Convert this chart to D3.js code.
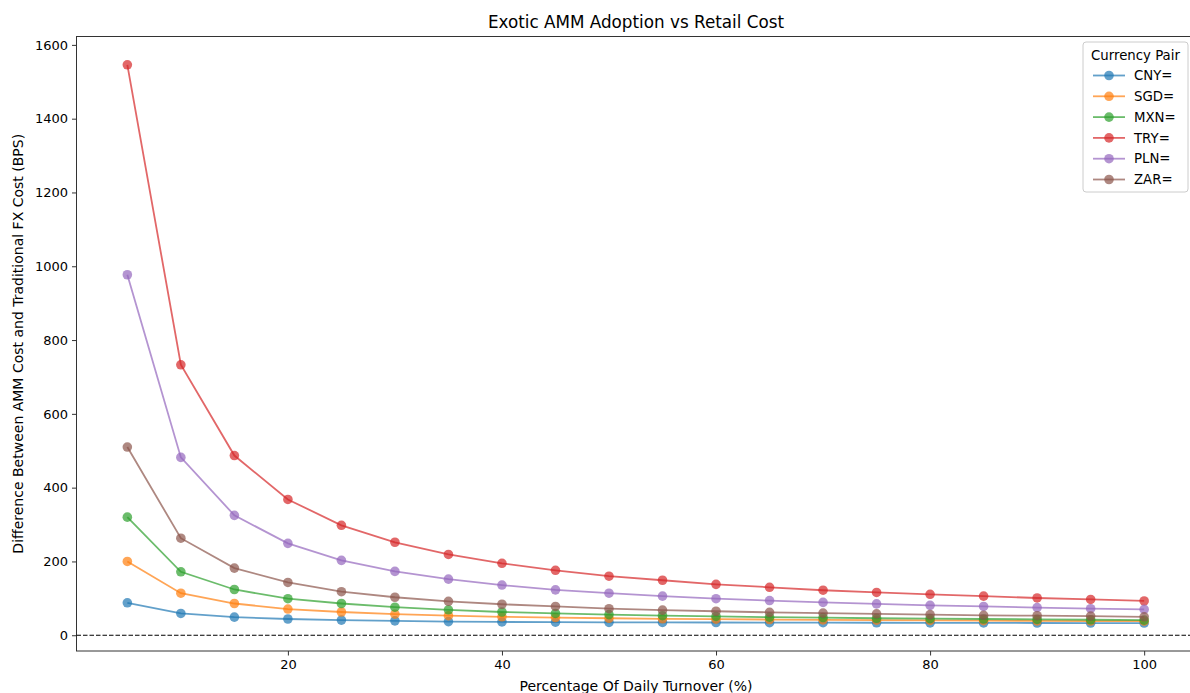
<!DOCTYPE html>
<html>
<head>
<meta charset="utf-8">
<script src="https://cdn.jsdelivr.net/npm/d3@7"></script>
<style>
  body { margin: 0; background: #fff; }
  svg { font-family: "DejaVu Sans", sans-serif; display: block; }
</style>
</head>
<body>
<svg id="chart" width="1190" height="693"></svg>
<script>
// turnover percentages on the x axis
var turnover = [5, 10, 15, 20, 25, 30, 35, 40, 45, 50, 55, 60, 65, 70, 75, 80, 85, 90, 95, 100];

// values (bps)
var cny = [88, 59, 49, 44, 41, 39, 37, 36, 35.5, 35, 34.8, 34.5, 34.2, 34, 33.8, 33.6, 33.4, 33.2, 33.1, 33];
var sgd = [200, 114, 86, 71, 63, 57, 53, 50, 48, 46, 44.5, 43.5, 42.5, 41.5, 40.8, 40.2, 39.6, 39, 38.5, 38];
var mxn = [320, 172, 124, 99, 86, 76, 69, 63, 59, 56, 53, 51, 49, 48, 46, 45, 44, 43, 42, 41];
var tryv = [1546, 733, 487, 368, 298, 252, 219, 195, 176, 160, 149, 138, 130, 122, 116, 111, 106, 101, 97, 93];
var pln = [977, 482, 325, 249, 203, 173, 152, 136, 123, 114, 106, 99, 94, 89, 85, 81, 78, 75, 72, 70];
var zar = [510, 263, 182, 143, 118, 103, 92, 84, 78, 72, 68, 65, 62, 60, 58, 56, 54, 53, 52, 50];

var pairs = ["CNY=", "SGD=", "MXN=", "TRY=", "PLN=", "ZAR="];
var seriesValues = [cny, sgd, mxn, tryv, pln, zar];
var colors = ["#1f77b4", "#ff7f0e", "#2ca02c", "#d62728", "#9467bd", "#8c564b"];

var xTicks = [20, 40, 60, 80, 100];
var yTicks = [0, 200, 400, 600, 800, 1000, 1200, 1400, 1600];

var svg = d3.select("#chart");

// plot area (right edge runs past the picture, as in the original)
var pLeft = 76.5, pRight = 1195, pTop = 36.5, pBottom = 651;

var x = d3.scaleLinear().domain([0.25, 104.75]).range([pLeft, pRight]);
var y = d3.scaleLinear().domain([-42.7, 1622.7]).range([pBottom, pTop]);

// axes
var xAxis = svg.append("g")
  .attr("transform", "translate(0," + pBottom + ")")
  .call(d3.axisBottom(x).tickValues(xTicks).tickFormat(d3.format("d"))
    .tickSize(4.5).tickPadding(4).tickSizeOuter(0));
var yAxis = svg.append("g")
  .attr("transform", "translate(" + pLeft + ",0)")
  .call(d3.axisLeft(y).tickValues(yTicks).tickFormat(d3.format("d"))
    .tickSize(4.5).tickPadding(4).tickSizeOuter(0));

[xAxis, yAxis].forEach(function(a) {
  a.select(".domain").remove();
  a.selectAll(".tick line").attr("stroke", "#333").attr("stroke-width", 1);
  a.selectAll(".tick text").attr("font-size", 13).attr("fill", "#000")
    .attr("font-family", "DejaVu Sans, sans-serif");
});

// frame
svg.append("rect")
  .attr("x", pLeft).attr("y", pTop)
  .attr("width", pRight - pLeft).attr("height", pBottom - pTop)
  .attr("fill", "none").attr("stroke", "#333").attr("stroke-width", 1);

// zero line
svg.append("line")
  .attr("x1", pLeft).attr("x2", pRight)
  .attr("y1", y(0)).attr("y2", y(0))
  .attr("stroke", "#000").attr("stroke-width", 1.2)
  .attr("stroke-dasharray", "4.5,2");

var line = d3.line()
  .x(function(d, i) { return x(turnover[i]); })
  .y(function(d) { return y(d); });

seriesValues.forEach(function(vals, k) {
  var g = svg.append("g");
  g.append("path")
    .datum(vals)
    .attr("d", line)
    .attr("fill", "none")
    .attr("stroke", colors[k])
    .attr("stroke-width", 1.8)
    .attr("stroke-opacity", 0.7);
  g.selectAll("circle")
    .data(vals)
    .enter()
    .append("circle")
    .attr("cx", function(d, i) { return x(turnover[i]); })
    .attr("cy", function(d) { return y(d); })
    .attr("r", 4.8)
    .attr("fill", colors[k])
    .attr("fill-opacity", 0.7);
});

// title and labels
svg.append("text")
  .attr("x", 636).attr("y", 28)
  .attr("text-anchor", "middle").attr("font-size", 16.8)
  .text("Exotic AMM Adoption vs Retail Cost");

svg.append("text")
  .attr("x", 636).attr("y", 691)
  .attr("text-anchor", "middle").attr("font-size", 14)
  .text("Percentage Of Daily Turnover (%)");

svg.append("text")
  .attr("transform", "translate(23," + ((pTop + pBottom) / 2) + ") rotate(-90)")
  .attr("text-anchor", "middle").attr("font-size", 14)
  .text("Difference Between AMM Cost and Traditional FX Cost (BPS)");

// legend
var lg = svg.append("g").attr("transform", "translate(1083,42)");
lg.append("rect")
  .attr("width", 105).attr("height", 150).attr("rx", 3)
  .attr("fill", "#fff").attr("fill-opacity", 0.8)
  .attr("stroke", "#ccc").attr("stroke-width", 1);
lg.append("text")
  .attr("x", 52.5).attr("y", 18)
  .attr("text-anchor", "middle").attr("font-size", 13.3)
  .text("Currency Pair");
pairs.forEach(function(p, k) {
  var yy = 33.5 + k * 20.8;
  lg.append("line")
    .attr("x1", 10).attr("x2", 42).attr("y1", yy).attr("y2", yy)
    .attr("stroke", colors[k]).attr("stroke-width", 1.8).attr("stroke-opacity", 0.7);
  lg.append("circle")
    .attr("cx", 26).attr("cy", yy).attr("r", 4.8)
    .attr("fill", colors[k]).attr("fill-opacity", 0.7);
  lg.append("text")
    .attr("x", 51).attr("y", yy + 4.6)
    .attr("font-size", 13.3)
    .text(p);
});
</script>
</body>
</html>
